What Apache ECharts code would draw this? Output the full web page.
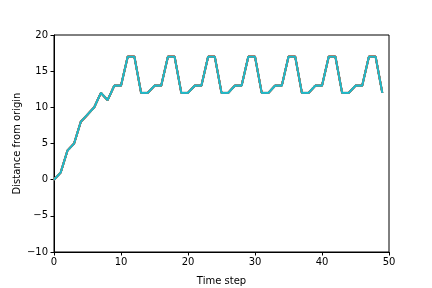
<!DOCTYPE html>
<html><head><meta charset="utf-8">
<script src="https://cdn.jsdelivr.net/npm/echarts@6/dist/echarts.min.js"></script>
<style>html,body{margin:0;padding:0;background:#fff}#c{width:432px;height:288px}</style>
</head><body><div id="c"></div>
<script>
var timeSteps = [0,1,2,3,4,5,6,7,8,9,10,11,12,13,14,15,16,17,18,19,20,21,22,23,24,25,26,27,28,29,30,31,32,33,34,35,36,37,38,39,40,41,42,43,44,45,46,47,48,49];
var distance = [0,1,4,5,8,9,10,12,11,13,13,17,17,12,12,13,13,17,17,12,12,13,13,17,17,12,12,13,13,17,17,12,12,13,13,17,17,12,12,13,13,17,17,12,12,13,13,17,17,12];
var seriesColors = ['#1f77b4','#ff7f0e','#2ca02c','#d62728','#9467bd','#8c564b','#e377c2','#7f7f7f','#bcbd22','#17becf'];
var yTicks = [-10,-5,0,5,10,15,20];
var xTicks = [0,10,20,30,40,50];

var font = 'DejaVu Sans';
var series = seriesColors.map(function(col, i){
  return {
    type:'line', name:'run'+i, showSymbol:false, animation:false,
    data: timeSteps.map(function(t,k){return [t, distance[k]];}),
    lineStyle:{color:col, width: i===seriesColors.length-1 ? 1.6 : (i===7 ? 2.2 : 1.8)},
    itemStyle:{color:col}, z: (i===7 ? 11 : 2+i) - (i===9 ? -10 : 0)
  };
});
var chart = echarts.init(document.getElementById('c'), null, {renderer:'canvas'});
chart.setOption({
  animation:false,
  backgroundColor:'#fff',
  grid:{left:54, right:43, top:35, bottom:36, containLabel:false, outerBoundsMode:'none', show:true, borderColor:'#000', borderWidth:1, backgroundColor:'transparent'},
  xAxis:{type:'value', min:xTicks[0], max:xTicks[xTicks.length-1], interval:10,
    name:'Time step', nameLocation:'middle', nameGap:24, nameMoveOverlap:false,
    nameTextStyle:{fontFamily:font, fontSize:10, color:'#000'},
    axisLine:{show:true, onZero:false, lineStyle:{color:'#000', width:1}},
    axisTick:{show:true, inside:false, length:3.5, lineStyle:{color:'#000'}},
    axisLabel:{fontFamily:font, fontSize:10, color:'#000', margin:5},
    splitLine:{show:false}},
  yAxis:{type:'value', min:yTicks[0], max:yTicks[yTicks.length-1], interval:5,
    name:'Distance from origin', nameLocation:'middle', nameGap:32, nameMoveOverlap:false,
    nameTextStyle:{fontFamily:font, fontSize:10, color:'#000'},
    axisLine:{show:true, onZero:false, lineStyle:{color:'#000', width:1}},
    axisTick:{show:true, inside:false, length:3.5, lineStyle:{color:'#000'}},
    axisLabel:{fontFamily:font, fontSize:10, color:'#000', margin:6,
      formatter:function(v){return String(v).replace('-', '\u2212');}},
    splitLine:{show:false}},
  series: series
});
</script></body></html>
